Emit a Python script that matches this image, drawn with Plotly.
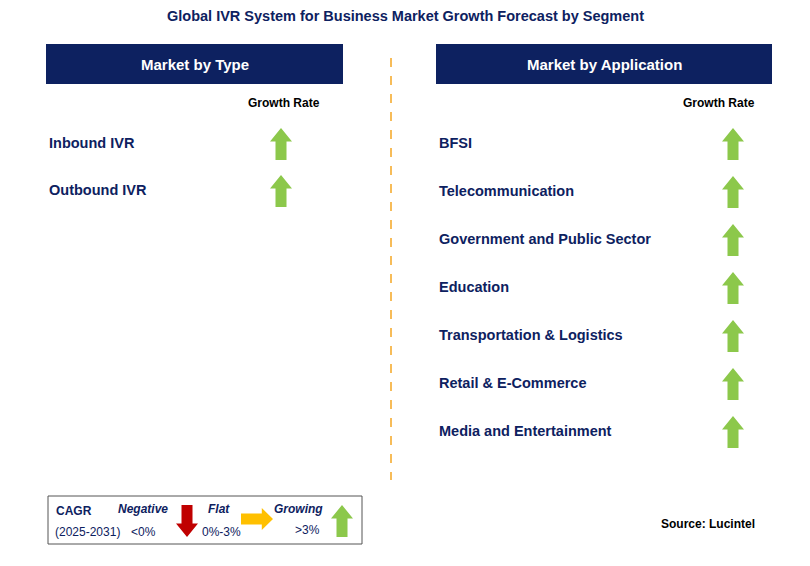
import plotly.graph_objects as go

title = "Global IVR System for Business Market Growth Forecast by Segment"
type_segments = ["Inbound IVR", "Outbound IVR"]
type_growth = ["up", "up"]
app_segments = ["BFSI", "Telecommunication", "Government and Public Sector", "Education",
                "Transportation & Logistics", "Retail & E-Commerce", "Media and Entertainment"]
app_growth = ["up"] * 7

NAVY = "#0d2160"
GREEN = "#8cc84b"
RED = "#c00000"
ORANGE = "#ffc000"
FONT = "Liberation Sans, Arial"
OFF = 8  # page body margin

shapes = []
ann = []


def arrow(cx, cy, kind, w=22, h=32):
    if kind == "up":
        hw, sw, hh = w / 2, w / 4, h * 0.42
        top, bot = cy - h / 2, cy + h / 2
        p = (f"M{cx},{top} L{cx+hw},{top+hh} L{cx+sw},{top+hh} L{cx+sw},{bot} "
             f"L{cx-sw},{bot} L{cx-sw},{top+hh} L{cx-hw},{top+hh} Z")
        col = GREEN
    elif kind == "down":
        hw, sw, hh = w / 2, w / 4, h * 0.42
        top, bot = cy - h / 2, cy + h / 2
        p = (f"M{cx},{bot} L{cx+hw},{bot-hh} L{cx+sw},{bot-hh} L{cx+sw},{top} "
             f"L{cx-sw},{top} L{cx-sw},{bot-hh} L{cx-hw},{bot-hh} Z")
        col = RED
    else:
        hh, sh, hl = h / 2, h / 4, w * 0.35
        l, r = cx - w / 2, cx + w / 2
        p = (f"M{r},{cy} L{r-hl},{cy-hh} L{r-hl},{cy-sh} L{l},{cy-sh} "
             f"L{l},{cy+sh} L{r-hl},{cy+sh} L{r-hl},{cy+hh} Z")
        col = ORANGE
    shapes.append(dict(type="path", path=p, fillcolor=col, line=dict(width=0), xref="x", yref="y"))


def text(x, y, s, size=14, color=NAVY, bold=True, anchor="left", italic=False):
    if bold:
        s = f"<b>{s}</b>"
    if italic:
        s = f"<i>{s}</i>"
    ann.append(dict(x=x, y=y, text=s, showarrow=False, xanchor=anchor, yanchor="middle",
                    xref="x", yref="y", font=dict(family=FONT, size=size, color=color)))


text(405, 16, title, size=14.5, anchor="center")

for x0, x1, label in [(46, 343, "Market by Type"), (436, 772, "Market by Application")]:
    shapes.append(dict(type="rect", x0=x0, x1=x1, y0=44, y1=84, fillcolor=NAVY, line=dict(width=0),
                       xref="x", yref="y"))
    text((x0 + x1) / 2, 64, label, size=15, color="white", anchor="center")

text(284, 103, "Growth Rate", size=12, color="black", anchor="center")
text(719, 103, "Growth Rate", size=12, color="black", anchor="center")

for i, (s, g) in enumerate(zip(type_segments, type_growth)):
    y = 143 + i * 47
    text(47, y, s, size=14.5)
    arrow(281, y + 1, g)

for i, (s, g) in enumerate(zip(app_segments, app_growth)):
    y = 143 + i * 48
    text(437, y, s, size=14.5)
    arrow(733, y + 1, g)

shapes.append(dict(type="line", x0=391, x1=391, y0=58, y1=480, line=dict(color="#f5a623", width=1.5, dash="dash"),
                   xref="x", yref="y"))

# legend
shapes.append(dict(type="rect", x0=48, x1=362, y0=496, y1=544, line=dict(color="#555555", width=1),
                   xref="x", yref="y"))
text(54, 511, "CAGR", size=12)
text(53, 532, "(2025-2031)", size=12, bold=False)
text(143, 509, "Negative", size=12, anchor="center", italic=True)
text(143, 532, "&lt;0%", size=12, bold=False, anchor="center")
arrow(187, 521, "down", w=22, h=32)
text(219, 509, "Flat", size=12, anchor="center", italic=True)
text(221, 532, "0%-3%", size=12, bold=False, anchor="center")
arrow(257, 519, "right", w=32, h=22)
text(298, 509, "Growing", size=12, anchor="center", italic=True)
text(307, 530, "&gt;3%", size=12, bold=False, anchor="center")
arrow(342, 521, "up", w=22, h=32)

text(757, 524, "Source: Lucintel", size=12, color="black", anchor="right")

fig = go.Figure()
fig.update_layout(width=810, height=566, margin=dict(l=0, r=0, t=0, b=0),
                  plot_bgcolor="white", paper_bgcolor="white", shapes=shapes, annotations=ann,
                  xaxis=dict(range=[OFF, 810 + OFF], visible=False, fixedrange=True),
                  yaxis=dict(range=[566 + OFF, OFF], visible=False, fixedrange=True),
                  showlegend=False)
fig.write_html("out.html")
